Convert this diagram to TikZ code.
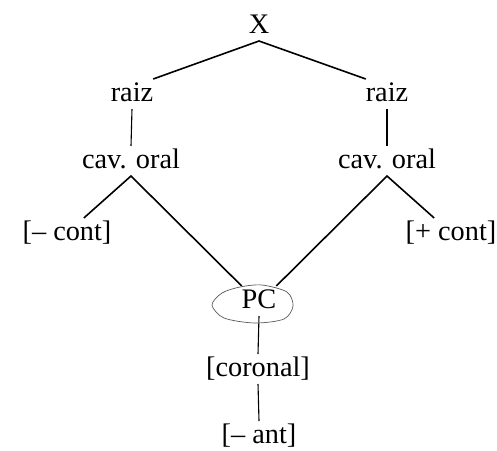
\documentclass[tikz,border=0pt]{standalone}
\usepackage{fontspec}
\setmainfont{Liberation Serif}
\begin{document}
\begin{tikzpicture}[x=1pt,y=-1pt,
  lbl/.style={inner sep=0pt,outer sep=0pt,text height=22pt,text depth=8pt,anchor=base,font=\fontsize{28.3}{34}\selectfont},
  diag/.style={line width=1.6pt},
  vert/.style={line width=1.1pt}]
\useasboundingbox (0,0) rectangle (497,450);
\node[lbl] (X) at (259,33) {X};
\node[lbl] (rl) at (132,101) {raiz};
\node[lbl] (rr) at (387,101) {raiz};
\node[lbl] (cl) at (131,168) {cav. oral};
\node[lbl] (cr) at (387,168) {cav. oral};
\node[lbl] (mc) at (67,240) {[– cont]};
\node[lbl] (pcont) at (451,240) {[+ cont]};
\node[lbl] (pc) at (259,308) {PC};
\node[lbl] (cor) at (258,376) {[coronal]};
\node[lbl] (ant) at (259,443) {[– ant]};
\draw[diag] (rl.north east) -- (X.south) -- (rr.north west);
\draw[vert] (rl.south) -- (cl.north);
\draw[vert] (rr.south) -- (cr.north);
\draw[diag] (mc) -- (cl.south) -- (pc.north west);
\draw[diag] (pcont) -- (cr.south) -- (pc.north east);
\draw[vert] (pc.south) -- (cor.north);
\draw[vert] (cor.south) -- (ant.north);
\draw[gray!70!black,line width=0.7pt] plot[smooth cycle] coordinates
  {(240,287) (222,293) (212,305) (224,318) (255,323) (284,319) (293,306) (287,292) (262,285)};
\end{tikzpicture}
\end{document}
